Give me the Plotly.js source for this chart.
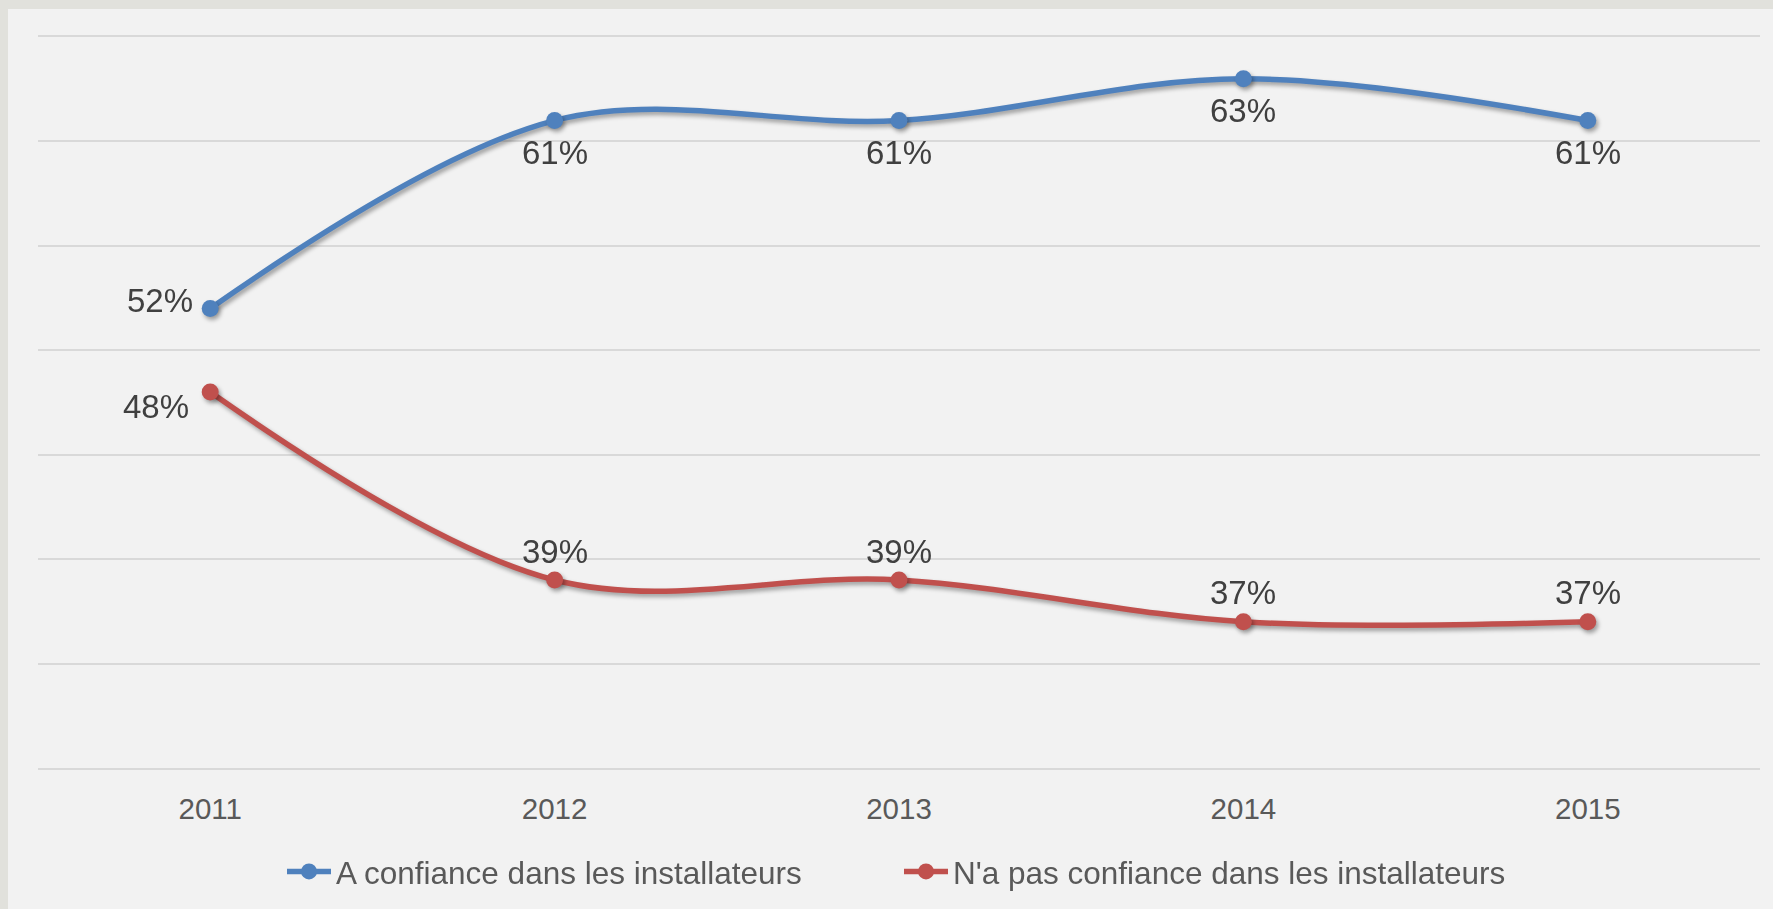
<!DOCTYPE html>
<html>
<head>
<meta charset="utf-8">
<script src="https://cdn.plot.ly/plotly-3.0.1.min.js"></script>
<style>
  html, body { margin: 0; padding: 0; background: #e1e1dc; overflow: hidden; }
  #chart { position: absolute; left: 8px; top: 9px; width: 1765px; height: 900px; }
  .scatterlayer .js-line, .scatterlayer .points { filter: drop-shadow(2px 3px 2px rgba(0,0,0,0.35)); }
</style>
</head>
<body>
<div id="chart"></div>
<script>
const years = ["2011", "2012", "2013", "2014", "2015"];
const confiance = [52, 61, 61, 63, 61];
const pasConfiance = [48, 39, 39, 37, 37];
const seriesNames = ["A confiance dans les installateurs", "N'a pas confiance dans les installateurs"];

const FONT = "Liberation Sans, Arial, sans-serif";
const LABEL_FONT = { family: FONT, size: 33, color: "#404040" };

const traces = [
  {
    x: years, y: confiance, name: seriesNames[0],
    type: "scatter", mode: "lines+markers",
    line: { color: "#4f81bd", width: 5.5, shape: "spline", smoothing: 1 },
    marker: { color: "#4f81bd", size: 17 },
    cliponaxis: false, hoverinfo: "skip"
  },
  {
    x: years, y: pasConfiance, name: seriesNames[1],
    type: "scatter", mode: "lines+markers",
    line: { color: "#c0504d", width: 5.5, shape: "spline", smoothing: 1 },
    marker: { color: "#c0504d", size: 17 },
    cliponaxis: false, hoverinfo: "skip"
  }
];

// data labels, positioned relative to their points (x given as the category index)
const annotations = [];
years.forEach((yr, i) => {
  const first = i === 0;
  annotations.push({
    x: i, y: confiance[i], xref: "x", yref: "y", showarrow: false,
    text: confiance[i] + "%", font: LABEL_FONT,
    xanchor: first ? "right" : "center", yanchor: "middle",
    xshift: first ? -15 : 0, yshift: first ? 8 : -32
  });
  annotations.push({
    x: i, y: pasConfiance[i], xref: "x", yref: "y", showarrow: false,
    text: pasConfiance[i] + "%", font: LABEL_FONT,
    xanchor: first ? "right" : "center", yanchor: "middle",
    xshift: first ? -19 : 0, yshift: first ? -14 : 29
  });
});

const layout = {
  width: 1765, height: 900,
  paper_bgcolor: "#f2f2f2", plot_bgcolor: "#f2f2f2",
  margin: { l: 30, r: 13, t: 28, b: 140 },
  font: { family: FONT, color: "#595959" },
  xaxis: {
    type: "category", range: [-0.5, 4.5],
    showgrid: false, zeroline: false,
    showline: true, mirror: true, linecolor: "#d9d9d9", linewidth: 2,
    ticks: "",
    tickfont: { family: FONT, size: 29.5, color: "#595959" },
    ticklabelstandoff: 14, fixedrange: true
  },
  yaxis: {
    range: [30, 65], dtick: 5, tick0: 30,
    showticklabels: false, ticks: "",
    showgrid: true, gridcolor: "#d9d9d9", gridwidth: 2,
    zeroline: false, showline: false, fixedrange: true
  },
  annotations: annotations,
  showlegend: true,
  legend: {
    orientation: "h", x: 0.5, xanchor: "center", y: -0.14, yanchor: "middle",
    font: { family: FONT, size: 31.5, color: "#595959" },
    bgcolor: "rgba(0,0,0,0)", itemwidth: 44, entrywidth: 558, traceorder: "normal"
  }
};

Plotly.newPlot("chart", traces, layout, { displayModeBar: false, staticPlot: true });
</script>
</body>
</html>
